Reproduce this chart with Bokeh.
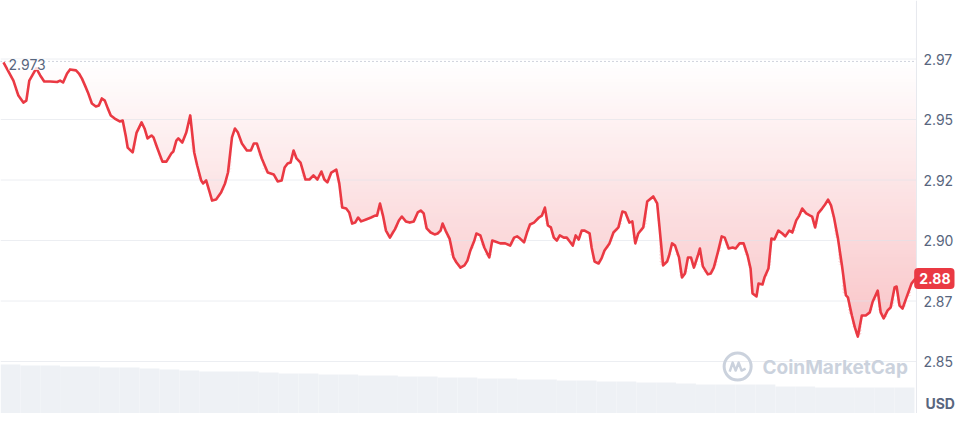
import numpy as np
from bokeh.plotting import figure
from bokeh.models import Range1d, Span, Label
from bokeh.embed import file_html
from bokeh.resources import INLINE

# ---- data ----
minutes = [3, 13, 18, 23, 26, 29, 36, 40, 44, 50, 57, 60, 63, 67, 70, 76, 79, 82, 85, 88,
           92, 96, 99, 102, 105, 108, 111, 115, 120, 123, 126, 128, 133, 137, 142, 145, 148, 152, 154, 158,
           163, 167, 172, 174, 177, 179, 183, 187, 191, 195, 198, 202, 204, 207, 210, 213, 217, 222, 226, 229,
           233, 236, 239, 243, 248, 252, 255, 258, 263, 269, 275, 279, 283, 286, 289, 292, 295, 298, 302, 307,
           311, 315, 319, 323, 326, 329, 333, 338, 341, 344, 348, 351, 354, 357, 360, 363, 368, 373, 377, 379,
           382, 385, 388, 392, 395, 397, 401, 404, 408, 412, 416, 420, 423, 426, 429, 433, 437, 440, 443, 445,
           448, 452, 456, 459, 463, 467, 470, 473, 477, 479, 483, 487, 492, 495, 498, 503, 508, 513, 517, 520,
           523, 527, 530, 533, 537, 542, 545, 548, 551, 554, 557, 560, 563, 567, 570, 573, 576, 579, 582, 585,
           588, 593, 595, 598, 602, 605, 608, 613, 617, 622, 626, 629, 633, 636, 639, 642, 647, 651, 657, 661,
           663, 667, 671, 673, 676, 679, 683, 686, 689, 692, 695, 698, 702, 704, 707, 712, 715, 718, 722, 726,
           729, 733, 737, 740, 744, 748, 752, 755, 757, 761, 763, 767, 769, 773, 776, 779, 783, 787, 790, 794,
           797, 801, 804, 807, 811, 815, 817, 820, 823, 827, 830, 833, 836, 839, 843, 847, 851, 853, 857, 860,
           863, 867, 871, 875, 878, 883, 886, 889, 893, 896, 900, 902, 905, 908, 912, 917, 921]

prices = [2.9726, 2.9651, 2.9589, 2.9560, 2.9568, 2.9651, 2.9701, 2.9672, 2.9647, 2.9647,
          2.9645, 2.9651, 2.9643, 2.9680, 2.9697, 2.9693, 2.9680, 2.9659, 2.9631, 2.9602,
          2.9556, 2.9544, 2.9548, 2.9577, 2.9568, 2.9536, 2.9507, 2.9494, 2.9482, 2.9486,
          2.9424, 2.9374, 2.9354, 2.9436, 2.9478, 2.9453, 2.9412, 2.9424, 2.9416, 2.9370,
          2.9316, 2.9316, 2.9350, 2.9358, 2.9403, 2.9412, 2.9395, 2.9436, 2.9507, 2.9354,
          2.9300, 2.9238, 2.9226, 2.9238, 2.9197, 2.9155, 2.9159, 2.9188, 2.9226, 2.9271,
          2.9416, 2.9453, 2.9436, 2.9391, 2.9362, 2.9362, 2.9391, 2.9391, 2.9329, 2.9271,
          2.9263, 2.9234, 2.9238, 2.9292, 2.9308, 2.9312, 2.9362, 2.9329, 2.9312, 2.9242,
          2.9242, 2.9259, 2.9242, 2.9275, 2.9242, 2.9230, 2.9271, 2.9283, 2.9226, 2.9126,
          2.9122, 2.9106, 2.9060, 2.9064, 2.9085, 2.9069, 2.9077, 2.9085, 2.9093, 2.9093,
          2.9143, 2.9093, 2.9031, 2.9002, 2.9023, 2.9036, 2.9073, 2.9089, 2.9069, 2.9064,
          2.9069, 2.9106, 2.9114, 2.9102, 2.9040, 2.9023, 2.9015, 2.9019, 2.9031, 2.9060,
          2.9031, 2.8998, 2.8920, 2.8899, 2.8878, 2.8887, 2.8907, 2.8949, 2.8990, 2.9019,
          2.9011, 2.8961, 2.8920, 2.8990, 2.8986, 2.8978, 2.8978, 2.8969, 2.9002, 2.9007,
          2.8998, 2.8982, 2.9023, 2.9056, 2.9064, 2.9085, 2.9093, 2.9126, 2.9052, 2.9044,
          2.9002, 2.8990, 2.9011, 2.9002, 2.9002, 2.8986, 2.8969, 2.9011, 2.8994, 2.9031,
          2.9031, 2.9019, 2.8961, 2.8903, 2.8895, 2.8916, 2.8949, 2.8978, 2.9023, 2.9044,
          2.9110, 2.9106, 2.9064, 2.9069, 2.8978, 2.9019, 2.9044, 2.9151, 2.9172, 2.9143,
          2.9060, 2.8887, 2.8903, 2.8928, 2.8978, 2.8969, 2.8920, 2.8837, 2.8854, 2.8920,
          2.8920, 2.8878, 2.8928, 2.8957, 2.8883, 2.8850, 2.8854, 2.8878, 2.8940, 2.9007,
          2.9002, 2.8957, 2.8961, 2.8957, 2.8978, 2.8978, 2.8928, 2.8874, 2.8771, 2.8759,
          2.8812, 2.8808, 2.8837, 2.8874, 2.8998, 2.8994, 2.9031, 2.9019, 2.9007, 2.9031,
          2.9023, 2.9073, 2.9093, 2.9122, 2.9102, 2.9093, 2.9089, 2.9044, 2.9102, 2.9122,
          2.9139, 2.9159, 2.9135, 2.9085, 2.8998, 2.8887, 2.8763, 2.8755, 2.8680, 2.8631,
          2.8593, 2.8680, 2.8680, 2.8693, 2.8738, 2.8783, 2.8693, 2.8668, 2.8701, 2.8713,
          2.8796, 2.8800, 2.8721, 2.8709, 2.8755, 2.8812, 2.8833]

open_price = 2.973
tick_values = [2.974, 2.949, 2.924, 2.899, 2.874, 2.849]
tick_labels = ["2.97", "2.95", "2.92", "2.90", "2.87", "2.85"]

vol_minutes = [10, 30, 50, 70, 90, 110, 130, 150, 170, 190, 210, 230, 250, 270, 290, 310,
               330, 350, 370, 390, 410, 430, 450, 470, 490, 510, 530, 550, 570, 590, 610, 630,
               650, 670, 690, 710, 730, 750, 770, 790, 810, 830, 850, 870, 890, 910]
volumes = [13.0, 12.8, 12.8, 12.6, 12.6, 12.4, 12.4, 12.2, 12.0, 11.8, 11.6, 11.6, 11.6, 11.4,
           11.2, 11.2, 11.0, 11.0, 10.8, 10.8, 10.6, 10.6, 10.4, 10.4, 10.2, 10.2, 10.0, 10.0,
           9.8, 9.8, 9.6, 9.6, 9.4, 9.4, 9.2, 9.0, 9.0, 9.0, 9.0, 8.6, 8.6, 8.4, 8.4, 8.4, 8.4, 8.4]

RED = "#ea3943"
RED_RGB = (234, 57, 67)
GREY_TXT = "#58667e"
WM = "#cbd2dd"
X_END = 922          # end of the time axis (data area)
X_VIEW = 961.3       # view extends past the data area to hold the price scale

p = figure(width=955, height=413, output_backend="svg", toolbar_location=None,
           x_range=Range1d(0, X_VIEW), y_range=Range1d(2.82751, 2.99818),
           x_axis_location=None, y_axis_location=None,
           min_border_left=0, min_border_top=0, min_border_bottom=0, min_border_right=0,
           outline_line_color=None, background_fill_color="white", border_fill_color="white")
p.extra_y_ranges = {"vol": Range1d(3.2, 85.8)}
p.xgrid.visible = False
p.ygrid.visible = False

# horizontal grid lines over the data area
p.segment(x0=[0] * len(tick_values), x1=[X_END] * len(tick_values),
          y0=tick_values, y1=tick_values, line_color="#dfe3ea", line_alpha=0.6,
          line_width=1, level="underlay")

# volume bars
p.vbar(x=vol_minutes, top=volumes, bottom=0, width=20, y_range_name="vol",
       fill_color="#eef1f5", line_color=None, level="image")

# gradient fill between open price line and price line (opaque steps, top to bottom)
mt = np.array(minutes, dtype=float)
pr = np.array(prices, dtype=float)
N = 80
levels = np.linspace(open_price, pr.min(), N + 1)[:-1]
for k, L in enumerate(levels):
    a = 0.30 * (k + 0.5) / N
    col = "#%02x%02x%02x" % tuple(int(round(255 - (255 - c) * a)) for c in RED_RGB)
    p.varea(x=mt, y1=np.minimum(pr, L), y2=np.full(len(pr), L),
            fill_color=col, level="image")

# watermark
cx = 742.0
cy = 2.8469
p.scatter(x=[cx], y=[cy], size=27, marker="circle", fill_color=None,
          line_color=WM, line_width=3, level="underlay")
wave_dx = [-8, -5, -2, 1, 4, 8]
wave_dy = [5, -4, 4, -4, 4, 2]
p.line(x=[cx + d for d in wave_dx], y=[cy - d / 2420 for d in wave_dy],
       line_color=WM, line_width=2.5, line_join="round", level="underlay")
p.add_layout(Label(x=767, y=2.8465, text="CoinMarketCap", text_font="Inter",
                   text_font_size="19px", text_font_style="bold", text_color=WM,
                   text_baseline="middle", level="underlay"))

# open price reference line (dotted) over the data area
p.segment(x0=[0], x1=[X_END], y0=[open_price], y1=[open_price], line_color="#a1a7bb",
          line_dash="1 3", line_width=1, level="underlay")

# right separator of the price scale
p.add_layout(Span(location=X_END, dimension="height", line_color="#e6e9ee",
                  line_width=1, level="underlay"))

# price line
p.line(mt, pr, line_color=RED, line_width=2.6, line_join="round")

# open price label
p.add_layout(Label(x=0, y=open_price, x_offset=8, y_offset=-3, text=f"{open_price:.3f}",
                   text_font="Inter", text_font_size="14px", text_color=GREY_TXT,
                   text_baseline="middle", background_fill_color="white",
                   background_fill_alpha=0.8))

# price scale labels
for v, t in zip(tick_values, tick_labels):
    p.add_layout(Label(x=X_END, y=v, x_offset=7, text=t, text_font="Inter",
                       text_font_size="14px", text_color=GREY_TXT, text_baseline="middle"))

# last price tag (right-aligned against the right edge)
p.add_layout(Label(x=X_VIEW, y=prices[-1], x_offset=-1, y_offset=0, text=f"{prices[-1]:.2f}",
                   text_font="Inter", text_font_size="14px", text_font_style="bold",
                   text_color="white", text_baseline="middle", text_align="right",
                   background_fill_color=RED, padding=(5, 4, 5, 5), border_radius=4))

# currency label
p.add_layout(Label(x=X_END, y=2.8315, x_offset=9, text="USD", text_font="Inter",
                   text_font_size="14px", text_font_style="bold", text_color=GREY_TXT,
                   text_baseline="middle"))

open("out.html", "w").write(file_html(p, INLINE))
